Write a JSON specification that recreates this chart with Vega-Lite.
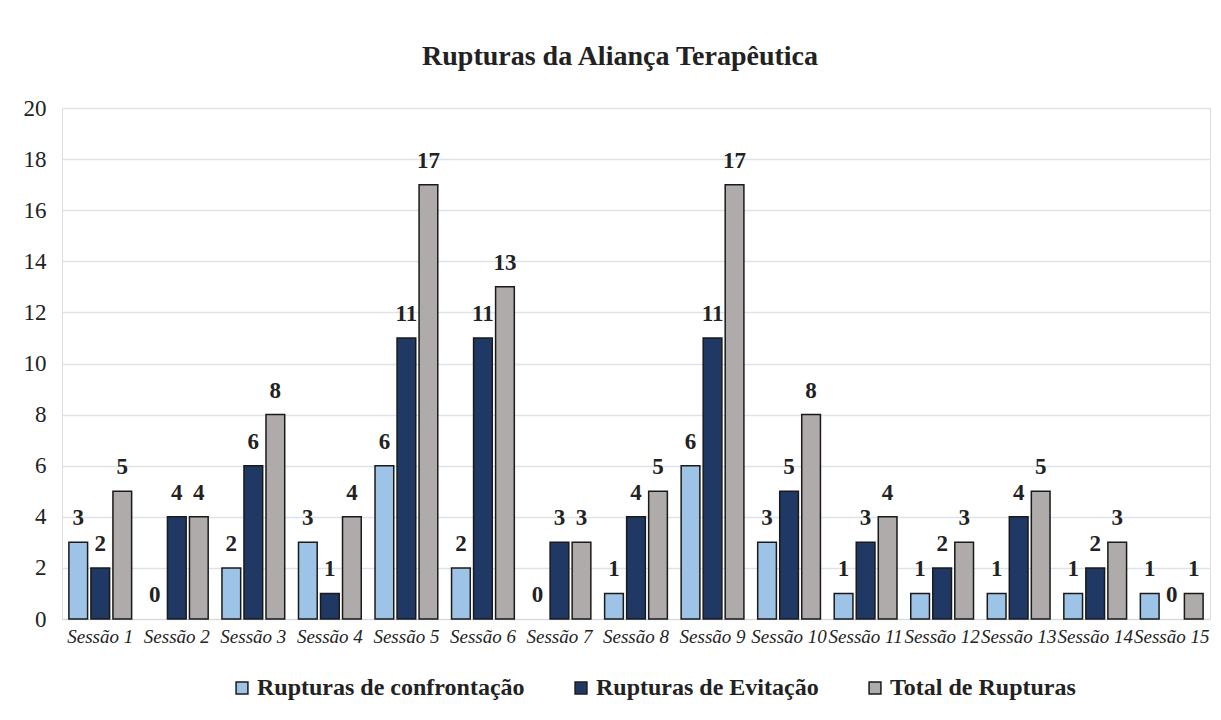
{
  "$schema": "https://vega.github.io/schema/vega-lite/v6.json",
  "width": 1148,
  "height": 511,
  "autosize": {"type": "none"},
  "padding": {"left": 62, "top": 108, "right": 11, "bottom": 101},
  "background": "white",
  "config": {"font": "Times New Roman, Liberation Serif, serif"},
  "title": {"text": "Rupturas da Aliança Terapêutica", "font": "Times New Roman, Liberation Serif, serif", "fontSize": 28, "fontWeight": "bold", "color": "#222222", "offset": 26, "anchor": "middle", "dx": -16},
  "data": {"values": [
    {"s": "Sessão 1", "serie": "Rupturas de confrontação", "v": 3},
    {"s": "Sessão 1", "serie": "Rupturas de Evitação", "v": 2},
    {"s": "Sessão 1", "serie": "Total de Rupturas", "v": 5},
    {"s": "Sessão 2", "serie": "Rupturas de confrontação", "v": 0},
    {"s": "Sessão 2", "serie": "Rupturas de Evitação", "v": 4},
    {"s": "Sessão 2", "serie": "Total de Rupturas", "v": 4},
    {"s": "Sessão 3", "serie": "Rupturas de confrontação", "v": 2},
    {"s": "Sessão 3", "serie": "Rupturas de Evitação", "v": 6},
    {"s": "Sessão 3", "serie": "Total de Rupturas", "v": 8},
    {"s": "Sessão 4", "serie": "Rupturas de confrontação", "v": 3},
    {"s": "Sessão 4", "serie": "Rupturas de Evitação", "v": 1},
    {"s": "Sessão 4", "serie": "Total de Rupturas", "v": 4},
    {"s": "Sessão 5", "serie": "Rupturas de confrontação", "v": 6},
    {"s": "Sessão 5", "serie": "Rupturas de Evitação", "v": 11},
    {"s": "Sessão 5", "serie": "Total de Rupturas", "v": 17},
    {"s": "Sessão 6", "serie": "Rupturas de confrontação", "v": 2},
    {"s": "Sessão 6", "serie": "Rupturas de Evitação", "v": 11},
    {"s": "Sessão 6", "serie": "Total de Rupturas", "v": 13},
    {"s": "Sessão 7", "serie": "Rupturas de confrontação", "v": 0},
    {"s": "Sessão 7", "serie": "Rupturas de Evitação", "v": 3},
    {"s": "Sessão 7", "serie": "Total de Rupturas", "v": 3},
    {"s": "Sessão 8", "serie": "Rupturas de confrontação", "v": 1},
    {"s": "Sessão 8", "serie": "Rupturas de Evitação", "v": 4},
    {"s": "Sessão 8", "serie": "Total de Rupturas", "v": 5},
    {"s": "Sessão 9", "serie": "Rupturas de confrontação", "v": 6},
    {"s": "Sessão 9", "serie": "Rupturas de Evitação", "v": 11},
    {"s": "Sessão 9", "serie": "Total de Rupturas", "v": 17},
    {"s": "Sessão 10", "serie": "Rupturas de confrontação", "v": 3},
    {"s": "Sessão 10", "serie": "Rupturas de Evitação", "v": 5},
    {"s": "Sessão 10", "serie": "Total de Rupturas", "v": 8},
    {"s": "Sessão 11", "serie": "Rupturas de confrontação", "v": 1},
    {"s": "Sessão 11", "serie": "Rupturas de Evitação", "v": 3},
    {"s": "Sessão 11", "serie": "Total de Rupturas", "v": 4},
    {"s": "Sessão 12", "serie": "Rupturas de confrontação", "v": 1},
    {"s": "Sessão 12", "serie": "Rupturas de Evitação", "v": 2},
    {"s": "Sessão 12", "serie": "Total de Rupturas", "v": 3},
    {"s": "Sessão 13", "serie": "Rupturas de confrontação", "v": 1},
    {"s": "Sessão 13", "serie": "Rupturas de Evitação", "v": 4},
    {"s": "Sessão 13", "serie": "Total de Rupturas", "v": 5},
    {"s": "Sessão 14", "serie": "Rupturas de confrontação", "v": 1},
    {"s": "Sessão 14", "serie": "Rupturas de Evitação", "v": 2},
    {"s": "Sessão 14", "serie": "Total de Rupturas", "v": 3},
    {"s": "Sessão 15", "serie": "Rupturas de confrontação", "v": 1},
    {"s": "Sessão 15", "serie": "Rupturas de Evitação", "v": 0},
    {"s": "Sessão 15", "serie": "Total de Rupturas", "v": 1}
  ]},
  "encoding": {
    "x": {"field": "s", "type": "nominal", "sort": null, "title": null,
      "scale": {"paddingInner": 0.18, "paddingOuter": 0.09},
      "axis": {"labelAngle": 0, "labelFont": "Times New Roman, Liberation Serif, serif", "labelFontStyle": "italic", "labelFontSize": 19, "labelColor": "#222222", "ticks": false, "domain": true, "domainColor": "#d9d9d9", "labelPadding": 8, "labelOverlap": false}},
    "xOffset": {"field": "serie", "type": "nominal", "sort": null, "scale": {"paddingInner": 0.15}},
    "y": {"field": "v", "type": "quantitative", "title": null,
      "scale": {"domain": [0, 20], "nice": false},
      "axis": {"values": [0,2,4,6,8,10,12,14,16,18,20], "labelFont": "Times New Roman, Liberation Serif, serif", "labelFontSize": 23, "labelColor": "#222222", "ticks": false, "domain": false, "gridColor": "#dde3ea", "gridWidth": 1.5, "labelPadding": 16}}
  },
  "layer": [
    {"mark": {"type": "bar", "stroke": "#1a1a1a", "strokeWidth": 1.5},
     "transform": [{"filter": "datum.v > 0"}],
     "encoding": {
       "color": {"field": "serie", "type": "nominal", "sort": null,
         "scale": {"domain": ["Rupturas de confrontação", "Rupturas de Evitação", "Total de Rupturas"], "range": ["#9dc3e6", "#1f3864", "#afabab"]},
         "legend": {"title": null, "orient": "none", "legendX": 168, "legendY": 568, "direction": "horizontal", "labelFont": "Times New Roman, Liberation Serif, serif", "labelFontWeight": "bold", "labelFontSize": 24, "labelColor": "#222222", "symbolType": "square", "symbolSize": 140, "symbolStrokeColor": "#1a1a1a", "symbolStrokeWidth": 1.5, "columnPadding": 44, "labelOffset": 3, "labelLimit": 400}}
     }},
    {"mark": {"type": "text", "font": "Times New Roman, Liberation Serif, serif", "fontWeight": "bold", "fontSize": 23, "color": "#222222", "baseline": "alphabetic", "dy": -17},
     "encoding": {"text": {"field": "v", "type": "quantitative"}}}
  ]
}
